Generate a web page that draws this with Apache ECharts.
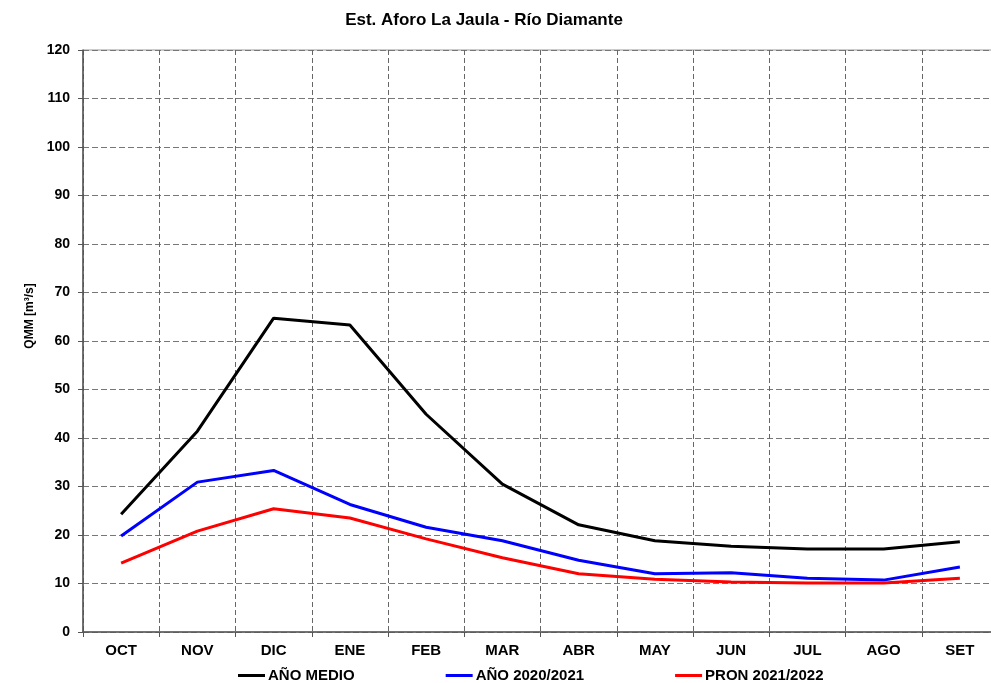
<!DOCTYPE html>
<html><head><meta charset="utf-8">
<script src="https://cdn.jsdelivr.net/npm/echarts@6/dist/echarts.min.js"></script>
<style>html,body{margin:0;padding:0;background:#fff}#c{width:991px;height:683px}</style>
</head><body><div id="c"></div>
<script>
const categories = ['OCT','NOV','DIC','ENE','FEB','MAR','ABR','MAY','JUN','JUL','AGO','SET'];
const anoMedio = [24.3, 41.4, 64.7, 63.3, 44.9, 30.5, 22.1, 18.8, 17.7, 17.1, 17.1, 18.6];
const ano2020 = [19.8, 30.9, 33.3, 26.3, 21.6, 18.8, 14.8, 12.0, 12.2, 11.1, 10.7, 13.4];
const pron2021 = [14.2, 20.8, 25.4, 23.5, 19.2, 15.3, 12.0, 10.9, 10.3, 10.1, 10.1, 11.1];
const seriesNames = ['AÑO MEDIO','AÑO 2020/2021','PRON 2021/2022'];
const font = 'Liberation Sans, Arial, sans-serif';
const chart = echarts.init(document.getElementById('c'));
const mk = (name, data, color) => ({
  name, type:'line', data, symbol:'none', smooth:false,
  lineStyle:{color, width:3}, itemStyle:{color}
});
chart.setOption({
  animation:false,
  title:{text:'Est. Aforo La Jaula - Río Diamante', left:479, textAlign:'center', top:7,
    textStyle:{fontFamily:font, fontSize:17, fontWeight:'bold', color:'#000'}},
  grid:{left:83, top:50, width:915, height:582, outerBoundsMode:'none', containLabel:false,
    show:true, borderColor:'#999', borderWidth:1},
  legend:{top:668, left:238, padding:0, itemGap:91, itemWidth:27, itemHeight:3, icon:'rect',
    data:seriesNames,
    textStyle:{fontFamily:font, fontSize:15, fontWeight:'bold', color:'#000', padding:[0,0,0,-2]}},
  graphic:[{type:'text', x:30, y:316, rotation:Math.PI/2,
    style:{text:'QMM [m³/s]', font:'bold 12px Liberation Sans, Arial, sans-serif', fill:'#000',
      textAlign:'center', textVerticalAlign:'middle'}}],
  xAxis:{type:'category', data:categories, boundaryGap:true,
    axisLine:{lineStyle:{color:'#555', width:1.5}},
    axisTick:{show:true, length:5, lineStyle:{color:'#555'}},
    axisLabel:{fontFamily:font, fontSize:15, fontWeight:'bold', color:'#000', margin:11},
    splitLine:{show:true, lineStyle:{color:'#666', type:[5,3], width:1}}},
  yAxis:{type:'value', min:0, max:120, interval:10,
    axisLine:{show:true, lineStyle:{color:'#555', width:1.5}},
    axisTick:{show:true, length:5, lineStyle:{color:'#555'}},
    axisLabel:{fontFamily:font, fontSize:14, fontWeight:'bold', color:'#000', margin:13},
    splitLine:{show:true, lineStyle:{color:'#777', type:[6,3], width:1}}},
  series:[mk(seriesNames[0], anoMedio, '#000'), mk(seriesNames[1], ano2020, '#0000ff'), mk(seriesNames[2], pron2021, '#ff0000')]
});
</script></body></html>
